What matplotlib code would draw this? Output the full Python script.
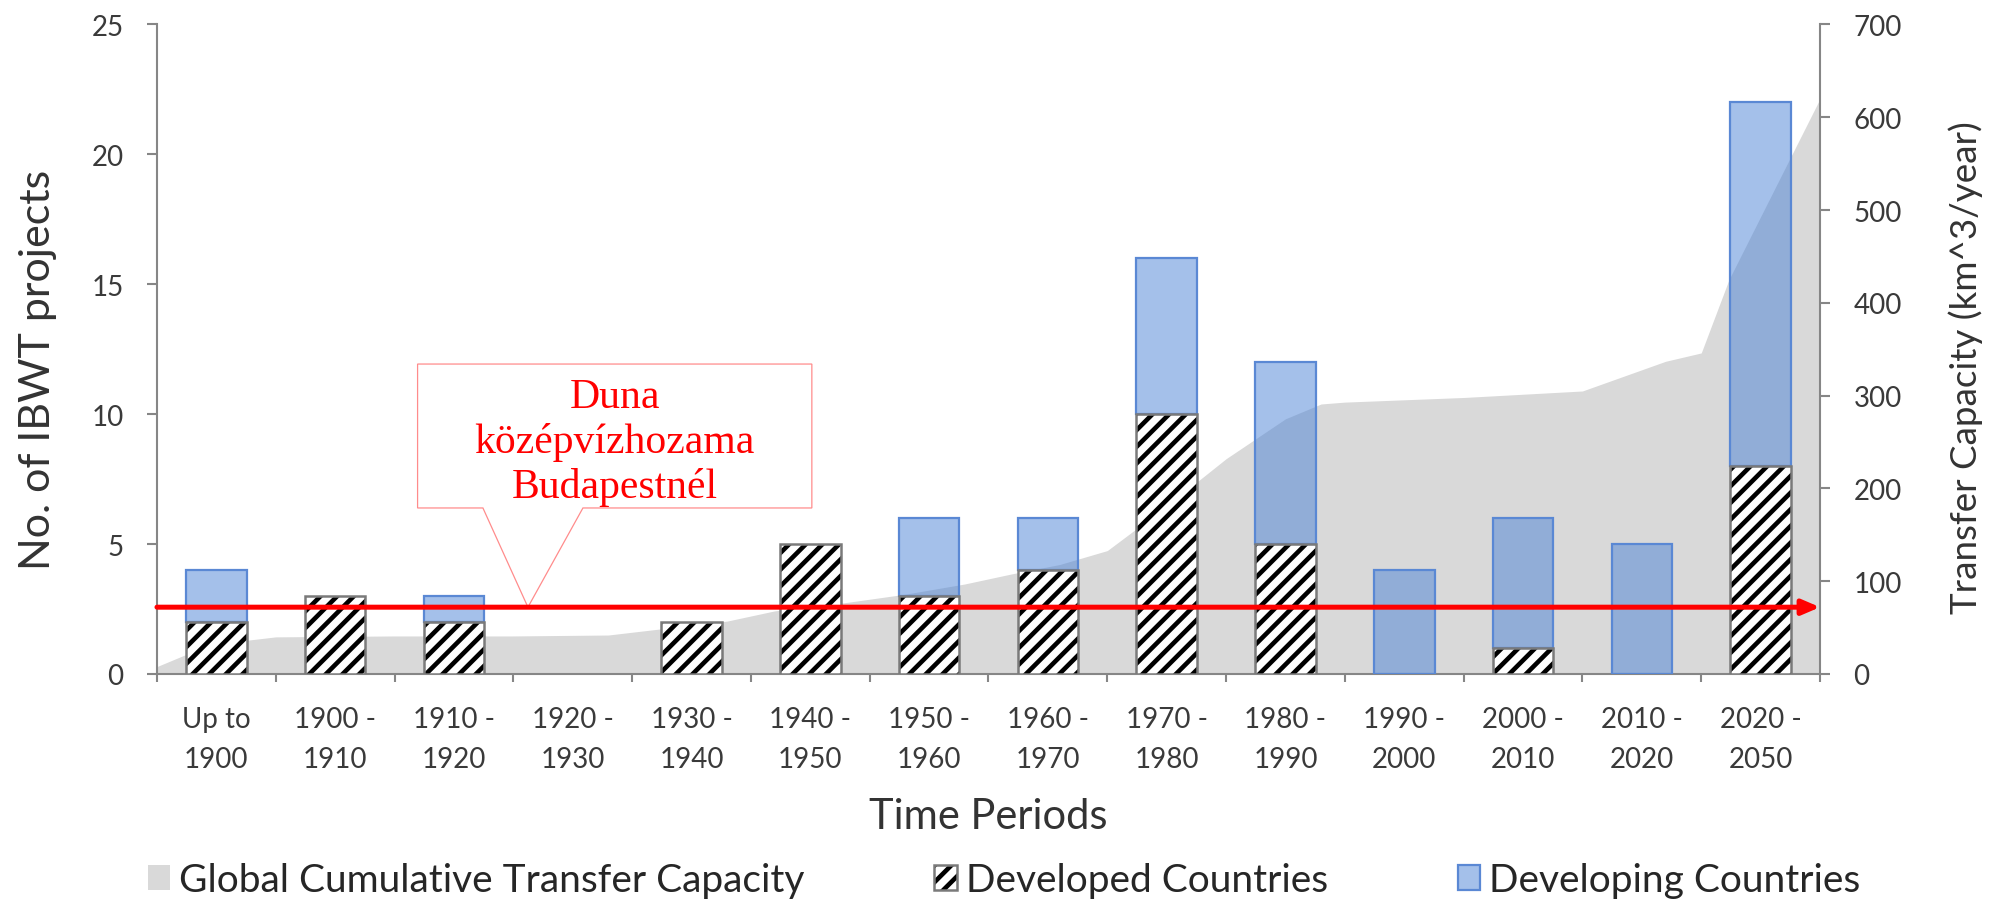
import matplotlib
matplotlib.use('Agg')
import matplotlib.pyplot as plt
from matplotlib.patches import Polygon
import numpy as np

plt.rcParams['font.family'] = ['Lato', 'DejaVu Sans']
plt.rcParams['hatch.linewidth'] = 3.3

# categories (time periods)
periods = ['Up to\n1900', '1900 -\n1910', '1910 -\n1920', '1920 -\n1930', '1930 -\n1940',
           '1940 -\n1950', '1950 -\n1960', '1960 -\n1970', '1970 -\n1980', '1980 -\n1990',
           '1990 -\n2000', '2000 -\n2010', '2010 -\n2020', '2020 -\n2050']

# number of IBWT projects per period
developed = [2, 3, 2, 0, 2, 5, 3, 4, 10, 5, 0, 1, 0, 8]
developing = [2, 0, 1, 0, 0, 0, 3, 2, 6, 7, 4, 5, 5, 14]

# global cumulative transfer capacity (km^3/year)
cap_years = [1890, 1893, 1896, 1900, 1910, 1920, 1928, 1932, 1938, 1942, 1948, 1953,
             1958, 1962, 1966, 1970, 1975, 1980, 1985, 1988, 1990, 2000, 2010, 2017,
             2020, 2027, 2050]
cap_values = [8, 24, 34, 40, 41, 41, 42, 48, 57, 68, 77, 86, 97, 108, 118, 133,
              181, 232, 275, 291, 293, 298, 305, 337, 346, 425, 620]

# mean discharge of the Danube at Budapest (km^3/year)
danube_flow = 72
callout_text = 'Duna\nközépvízhozama\nBudapestnél'

left_max = 25
right_max = 700


def year_to_pos(y):
    # one slot per decade, the last slot covers 2020-2050
    if y <= 2020:
        return (y - 1895) / 10.0
    return 12.5 + (y - 2020) / 30.0


GRAY_AX = '#868686'
TXT = '#3A3A3A'
BLUE_FACE = (0.29, 0.51, 0.84, 0.5)
BLUE_EDGE = '#5A88D4'

fig = plt.figure(figsize=(20.02, 9.03), dpi=100)
ax = fig.add_subplot(111)
fig.subplots_adjust(left=0.0784, right=0.9091, bottom=0.2525, top=0.9718)
ax2 = ax.twinx()
ax.set_zorder(2)
ax2.set_zorder(1)
ax.patch.set_visible(False)

# grey area on the right axis
cap_pos = [year_to_pos(y) for y in cap_years]
area = ax2.fill_between(cap_pos, cap_values, color='#D9D9D9', linewidth=0)

# stacked bars
x = np.arange(len(periods))
dev = np.array(developed)
dvl = np.array(developing)
m1 = dev > 0
m2 = dvl > 0
w = 0.51
hb = ax.bar(x[m1], dev[m1], width=w, color='white', edgecolor='black', hatch='//',
            linewidth=0, zorder=3)
ob = ax.bar(x[m1], dev[m1], width=w, fill=False, edgecolor='#7A7A7A', linewidth=1.8,
            zorder=4)
bb = ax.bar(x[m2], dvl[m2], bottom=dev[m2], width=w, facecolor=BLUE_FACE,
            edgecolor=BLUE_EDGE, linewidth=1.6, zorder=3)

# Danube line with arrow
line_y = danube_flow * left_max / right_max
ax.annotate('', xy=(13.5, line_y), xytext=(-0.5, line_y), annotation_clip=False,
            arrowprops=dict(arrowstyle='-|>,head_length=0.7,head_width=0.3', color='red',
                            lw=3.6, shrinkA=0, shrinkB=0, mutation_scale=15), zorder=7)

# callout box
bx0, bx1, by0, by1 = 1.694, 5.013, 6.39, 11.93
px0, px1, tipx = 2.244, 3.086, 2.623
callout = Polygon([(bx0, by0), (bx0, by1), (bx1, by1), (bx1, by0), (px1, by0),
                   (tipx, line_y), (px0, by0)], closed=True, facecolor='white',
                  edgecolor='#FF8C8C', linewidth=0.9, zorder=5)
ax.add_patch(callout)
ax.text((bx0 + bx1) / 2, 8.95, callout_text, ha='center', va='center', color='red',
        fontsize=30, family=['Liberation Serif', 'DejaVu Serif'], linespacing=1.2, zorder=6)

# axes styling
ax.set_xlim(-0.5, 13.5)
ax.set_ylim(0, left_max)
ax2.set_ylim(0, right_max)
ax.set_yticks(range(0, left_max + 1, 5))
ax2.set_yticks(range(0, right_max + 1, 100))
ax.set_xticks(x)
ax.set_xticklabels(periods)
ax.set_xticks(np.arange(-0.5, 14, 1), minor=True)
for lbl in ax.get_xticklabels():
    lbl.set_linespacing(1.65)

for s in ['top', 'right']:
    ax.spines[s].set_visible(False)
for s in ['top', 'left', 'bottom']:
    ax2.spines[s].set_visible(False)
for s in ['left', 'bottom']:
    ax.spines[s].set_color(GRAY_AX)
    ax.spines[s].set_linewidth(1.5)
ax2.spines['right'].set_color(GRAY_AX)
ax2.spines['right'].set_linewidth(1.5)

ax.tick_params(axis='y', direction='out', length=7, width=1.5, color=GRAY_AX,
               labelsize=20, labelcolor=TXT, pad=17)
ax2.tick_params(axis='y', direction='out', length=7, width=1.5, color=GRAY_AX,
                labelsize=20, labelcolor=TXT, pad=17)
ax.tick_params(axis='x', which='major', length=0, labelsize=20, labelcolor=TXT, pad=23)
ax.tick_params(axis='x', which='minor', direction='out', length=6, width=1.5, color=GRAY_AX)

ax.set_xlabel('Time Periods', fontsize=30, color='#333333')
ax.xaxis.set_label_coords(0.5, (675 - 817) / 649.5)
ax.xaxis.label.set_va('center')
ax.set_ylabel('No. of IBWT projects', fontsize=31, color='#333333')
ax.yaxis.set_label_coords((38 - 157) / 1663, 0.47)
ax.yaxis.label.set_va('center')
ax2.set_ylabel('Transfer Capacity (km^3/year)', fontsize=26.5, color='#333333')
ax2.yaxis.set_label_coords((1966 - 157) / 1663, 0.473)
ax2.yaxis.label.set_va('center')

leg = ax.legend([area, (hb[0], ob[0]), bb[0]],
                ['Global Cumulative Transfer Capacity', 'Developed Countries',
                 'Developing Countries'],
                loc='center', bbox_to_anchor=(1004 / 2002, 1 - 881 / 903),
                bbox_transform=fig.transFigure, ncol=3, frameon=False, fontsize=28,
                handlelength=0.57, handleheight=0.6, handletextpad=0.23, columnspacing=3.35,
                labelcolor='#262626')

fig.savefig('out.png', dpi=100)
